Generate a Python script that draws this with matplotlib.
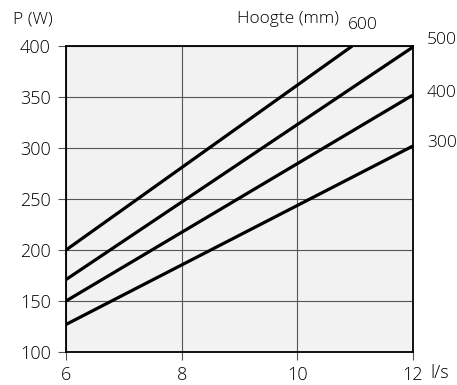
import matplotlib
matplotlib.use('Agg')
import matplotlib.pyplot as plt

plt.rcParams['font.family'] = ['Open Sans', 'DejaVu Sans']
plt.rcParams['font.weight'] = 'light'

# flow (l/s) and power (W) per height (mm)
heights = ['300', '400', '500', '600']
flow = {
    '300': [6, 12],
    '400': [6, 12],
    '500': [6, 12],
    '600': [6, 10.95],
}
power = {
    '300': [127, 302],
    '400': [150, 352],
    '500': [171, 399],
    '600': [200, 400],
}
x_ticks = [6, 8, 10, 12]
y_ticks = [100, 150, 200, 250, 300, 350, 400]

fig = plt.figure(figsize=(4.57, 3.85), dpi=100)
ax = fig.add_axes([66 / 457, 1 - 352 / 385, 347 / 457, 306 / 385])
ax.set_facecolor('#f2f2f2')

for h in heights:
    ax.plot(flow[h], power[h], color='black', lw=2.3, solid_capstyle='butt', zorder=3)

ax.set_xlim(6, 12)
ax.set_ylim(100, 400)
ax.set_xticks(x_ticks)
ax.set_yticks(y_ticks)
ax.grid(True, color='#555555', lw=0.8)
ax.set_axisbelow(True)
ax.tick_params(labelsize=13, length=6, width=0.8, color='#555555', pad=5)
ax.tick_params(axis='x', pad=4)
for s in ax.spines.values():
    s.set_linewidth(1.3)

fig.text(430 / 457, 1 - 373 / 385, 'l/s', fontsize=13, va='center', ha='left')
fig.text(13 / 457, 1 - 20 / 385, 'P (W)', fontsize=12.5, va='center', ha='left')
fig.text(237 / 457, 1 - 19 / 385, 'Hoogte (mm)', fontsize=12.5, va='center', ha='left')

# height labels
label_pos = {'600': (348, 25), '500': (427, 40), '400': (427, 93), '300': (427, 143)}
for h in heights:
    px, py = label_pos[h]
    fig.text(px / 457, 1 - py / 385, h, fontsize=12.5, va='center', ha='left')

fig.savefig('out.png', dpi=100)
